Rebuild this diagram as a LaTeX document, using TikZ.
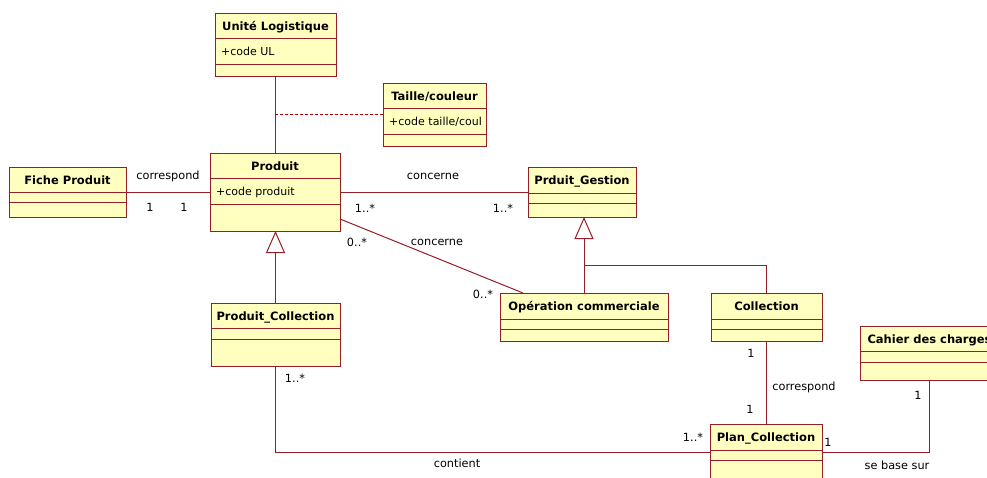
\documentclass[tikz,border=0pt]{standalone}
\usepackage{fontspec}
\setmainfont{DejaVu Sans}
\usetikzlibrary{arrows.meta,calc}

\definecolor{umlfill}{RGB}{255,255,192}
\definecolor{umlline}{RGB}{150,30,40}
\definecolor{notelink}{RGB}{170,0,0}

\tikzset{
  classframe/.style={draw=umlline, fill=umlfill, line width=1pt, inner sep=0pt,
    outer sep=0pt, anchor=north west},
  sepline/.style={draw=umlline, line width=1pt},
  classtitle/.style={font=\fontsize{11.5}{13}\selectfont\bfseries, inner sep=0pt, anchor=base},
  classattr/.style={font=\fontsize{11}{13}\selectfont, inner sep=0pt, anchor=base west},
  assoc/.style={draw=umlline, line width=1pt},
  generalize/.style={assoc, -{Triangle[open, length=22pt, width=19pt, fill=white]}},
  tracelink/.style={draw=notelink, line width=1pt, dash pattern=on 3pt off 2pt},
  role/.style={font=\fontsize{11.3}{13}\selectfont, inner sep=0pt},
}

% #1 name, #2 left, #3 top, #4 right, #5 first separator, #6 second separator,
% #7 bottom, #8 class name, #9 attribute
\newcommand\classbox[9]{%
  \node[classframe, minimum width=#4pt-#2pt, minimum height=#7pt-#3pt] (#1) at (#2,#3) {};
  \draw[sepline] (#2,#5) -- (#4,#5);
  \draw[sepline] (#2,#6) -- (#4,#6);
  \node[classtitle] (#1-title) at ({(#2+#4)/2},#3+17) {#8};
  \node[classattr] (#1-attr) at (#2+6,#5+17) {#9};
}

\begin{document}
\begin{tikzpicture}[x=1pt, y=-1pt]
  \useasboundingbox (0,0) rectangle (987,477);
  \clip (0,0) rectangle (987,477);

  % classes
  \classbox{ul}{215}{13}{336}{38}{64}{76}{Unité Logistique}{+code UL}
  \classbox{tc}{383}{83}{486}{108}{134}{146}{Taille/couleur}{+code taille/coul}
  \classbox{fp}{9}{167}{126}{192}{202}{217}{Fiche Produit}{}
  \classbox{prod}{210}{153}{340}{178}{204}{231}{Produit}{+code produit}
  \classbox{pg}{528}{167}{636}{193}{203}{217}{Prduit\_Gestion}{}
  \classbox{op}{500}{293}{668}{319}{329}{341}{Opération commerciale}{}
  \classbox{col}{711}{293}{822}{319}{329}{341}{Collection}{}
  \classbox{pc}{211}{303}{340}{328}{339}{366}{Produit\_Collection}{}
  \classbox{plan}{710}{424}{822}{450}{460}{500}{Plan\_Collection}{}
  \classbox{cdc}{860}{326}{999}{351}{362}{380}{Cahier des charges}{}

  % associations
  \draw[assoc] (ul.south) -- (ul.south |- prod.north);
  \draw[tracelink] (tc.west) -- (tc.west -| ul.south);
  \draw[assoc] (fp.east) -- (fp.east -| prod.west);
  \draw[assoc] (pg.west) -- (pg.west -| prod.east);
  \draw[assoc] ($(prod.north east)+(0,66)$) -- ($(op.north west)+(23,0)$);
  \draw[assoc] (col.south) -- (col.south |- plan.north);
  \draw[assoc] (pc.south) |- ($(plan.north west)+(0,28)$);
  \draw[assoc] (cdc.south) |- ($(plan.north east)+(0,28)$);

  % generalizations
  \draw[generalize] (op.north) -- (op.north |- pg.south);
  \draw[assoc] (col.north) |- ($(op.north)+(0,-28)$);
  \draw[generalize] (pc.north) -- (pc.north |- prod.south);

  % association names and multiplicities
  \node[role] (l-fp) at (168,176) {correspond};
  \node[role] (m-fp1) at (150,207) {1};
  \node[role] (m-fp2) at (184,207) {1};
  \node[role] (l-pg) at (433,176) {concerne};
  \node[role] (m-pg1) at (365,208) {1..*};
  \node[role] (m-pg2) at (503,208) {1..*};
  \node[role] (m-op1) at (357,242) {0..*};
  \node[role] (l-op) at (437,242) {concerne};
  \node[role] (m-op2) at (483,294) {0..*};
  \node[role] (m-col1) at (751,353) {1};
  \node[role] (l-col) at (804,387) {correspond};
  \node[role] (m-col2) at (750,409) {1};
  \node[role] (m-pc1) at (295,378) {1..*};
  \node[role] (l-pc) at (457,463) {contient};
  \node[role] (m-pc2) at (693,437) {1..*};
  \node[role] (m-cdc1) at (918,395) {1};
  \node[role] (m-cdc2) at (828,442) {1};
  \node[role] (l-cdc) at (897,465) {se base sur};
\end{tikzpicture}
\end{document}
